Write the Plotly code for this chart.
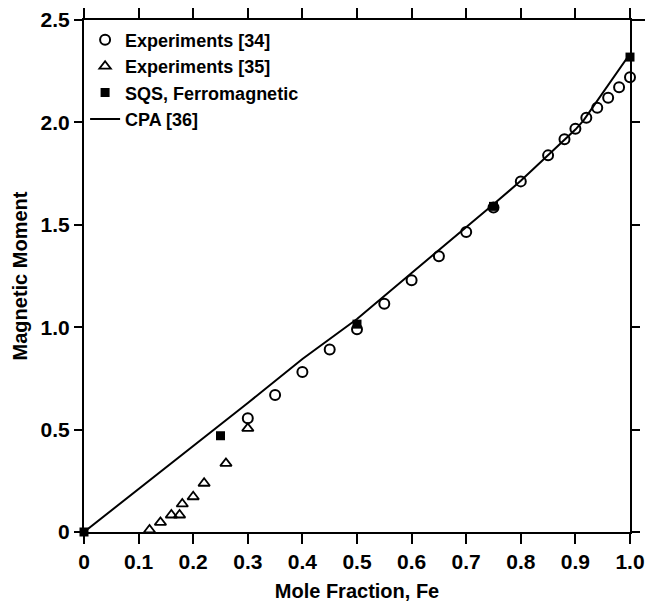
import plotly.graph_objects as go

# Experiments [34]
exp34_x = [0.30, 0.35, 0.40, 0.45, 0.50, 0.55, 0.60, 0.65, 0.70, 0.75,
           0.80, 0.85, 0.88, 0.90, 0.92, 0.94, 0.96, 0.98, 1.00]
exp34_y = [0.555, 0.669, 0.781, 0.891, 0.990, 1.115, 1.229, 1.346, 1.465, 1.585,
           1.712, 1.839, 1.918, 1.969, 2.023, 2.072, 2.120, 2.172, 2.221]

# Experiments [35]
exp35_x = [0.12, 0.14, 0.16, 0.175, 0.18, 0.20, 0.22, 0.26, 0.30]
exp35_y = [0.010, 0.047, 0.083, 0.083, 0.137, 0.172, 0.238, 0.335, 0.506]

# SQS, ferromagnetic
sqs_x = [0.0, 0.25, 0.50, 0.75, 1.00]
sqs_y = [0.0, 0.470, 1.015, 1.590, 2.319]

# CPA [36]
cpa_x = [0.0, 0.1, 0.2, 0.3, 0.4, 0.5, 0.6, 0.65, 0.7, 0.75, 0.8, 0.85, 0.9, 0.915, 0.95, 1.0]
cpa_y = [0.0, 0.21, 0.42, 0.63, 0.845, 1.04, 1.265, 1.376, 1.485, 1.60, 1.715, 1.84, 1.965, 2.01, 2.144, 2.335]

x_ticks = [0.0, 0.1, 0.2, 0.3, 0.4, 0.5, 0.6, 0.7, 0.8, 0.9, 1.0]
x_ticktext = ["0", "0.1", "0.2", "0.3", "0.4", "0.5", "0.6", "0.7", "0.8", "0.9", "1.0"]
y_ticks = [0.0, 0.5, 1.0, 1.5, 2.0, 2.5]
y_ticktext = ["0", "0.5", "1.0", "1.5", "2.0", "2.5"]

FONT = "Liberation Sans, Arial, Helvetica, sans-serif"

fig = go.Figure()

fig.add_trace(go.Scatter(
    x=cpa_x, y=cpa_y, mode="lines", name="CPA [36]",
    line=dict(color="black", width=2), legendrank=4, cliponaxis=False))

fig.add_trace(go.Scatter(
    x=exp34_x, y=exp34_y, mode="markers", name="Experiments [34]",
    marker=dict(symbol="circle-open", size=10, color="black", line=dict(width=2)),
    legendrank=1, cliponaxis=False))

fig.add_trace(go.Scatter(
    x=exp35_x, y=exp35_y, mode="markers", name="Experiments [35]",
    marker=dict(symbol="triangle-up-open", size=10, color="black", line=dict(width=1.8)),
    legendrank=2, cliponaxis=False))

fig.add_trace(go.Scatter(
    x=sqs_x, y=sqs_y, mode="markers", name="SQS, Ferromagnetic",
    marker=dict(symbol="square", size=9, color="black"),
    legendrank=3, cliponaxis=False))

axis_common = dict(
    showline=True, linecolor="black", linewidth=2,
    mirror="ticks", ticks="outside", tickcolor="black", tickwidth=1.5,
    showgrid=False, zeroline=False, automargin=False,
    tickfont=dict(family=FONT, size=21, color="black", weight="bold"),
)

fig.update_xaxes(
    range=[0, 1.0], tickvals=x_ticks, ticktext=x_ticktext, ticklen=10,
    title=dict(text="Mole Fraction, Fe", standoff=16,
               font=dict(family=FONT, size=20, color="black", weight="bold")),
    **axis_common)
fig.update_yaxes(
    range=[0, 2.5], tickvals=y_ticks, ticktext=y_ticktext, ticklen=8,
    title=dict(text="Magnetic Moment", standoff=8,
               font=dict(family=FONT, size=20, color="black", weight="bold")),
    **axis_common)

# frame lines running a little past the right edge
fig.add_shape(type="line", xref="paper", yref="paper", x0=1, x1=1.03, y0=1, y1=1,
              line=dict(color="black", width=2))
fig.add_shape(type="line", xref="paper", yref="paper", x0=1, x1=1.018, y0=0, y1=0,
              line=dict(color="black", width=2))

fig.update_layout(
    width=645, height=602,
    margin=dict(l=84, r=15, t=20, b=70),
    paper_bgcolor="white", plot_bgcolor="white",
    font=dict(family=FONT, color="black"),
    legend=dict(
        x=0.002, y=0.997, xanchor="left", yanchor="top",
        bgcolor="rgba(0,0,0,0)", borderwidth=0,
        font=dict(family=FONT, size=18, color="black", weight="bold"),
        itemwidth=30, tracegroupgap=0,
    ),
    showlegend=True,
)

fig.write_html("out.html")
